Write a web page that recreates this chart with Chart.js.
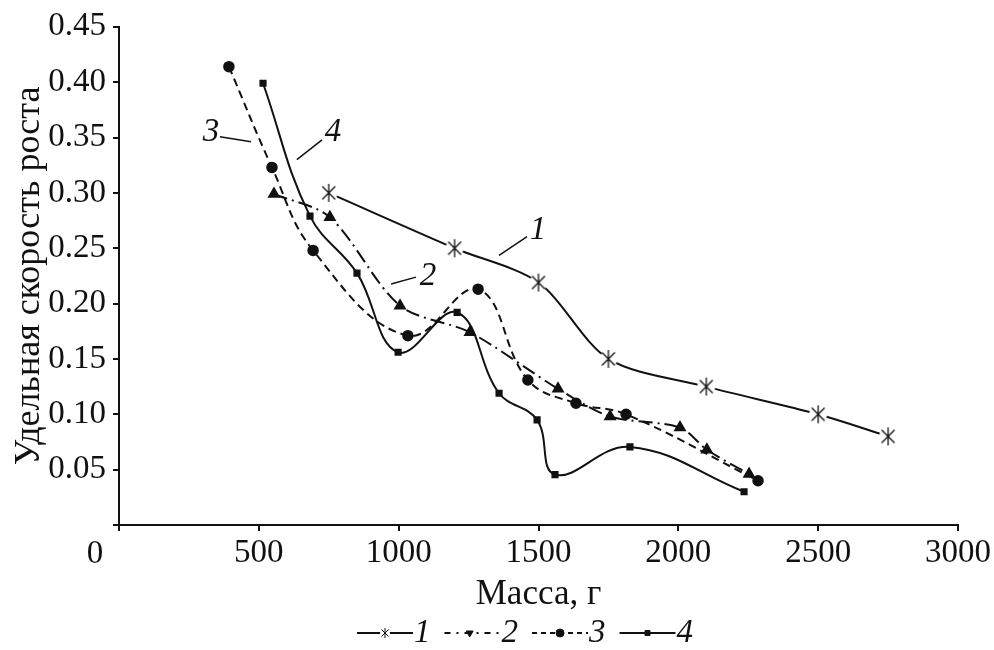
<!DOCTYPE html>
<html>
<head>
<meta charset="utf-8">
<script src="https://cdn.jsdelivr.net/npm/chart.js@4/dist/chart.umd.min.js"></script>
<style>
  html, body { margin: 0; padding: 0; background: #fff; }
  #wrap { width: 994px; height: 650px; }
</style>
</head>
<body>
<div id="wrap"><canvas id="c" width="994" height="650"></canvas></div>
<script>
// ---- data ----
const seriesNames = ['1', '2', '3', '4'];
const s1x = [750, 1200, 1500, 1750, 2100, 2500, 2750];
const s1y = [0.300, 0.250, 0.219, 0.150, 0.125, 0.100, 0.080];
const s2x = [554, 754, 1005, 1255, 1570, 1756, 2006, 2102, 2253];
const s2y = [0.299, 0.278, 0.198, 0.174, 0.123, 0.098, 0.088, 0.068, 0.046];
const s3x = [393, 547, 694, 1033, 1284, 1462, 1634, 1813, 2285];
const s3y = [0.414, 0.323, 0.248, 0.171, 0.213, 0.131, 0.110, 0.100, 0.040];
const s4x = [515, 683, 851, 998, 1209, 1359, 1495, 1559, 1827, 2235];
const s4y = [0.399, 0.279, 0.2275, 0.156, 0.192, 0.119, 0.095, 0.0455, 0.0705, 0.030];
const xTicks = [0, 500, 1000, 1500, 2000, 2500, 3000];
const yTicks = [0, 0.05, 0.10, 0.15, 0.20, 0.25, 0.30, 0.35, 0.40, 0.45];
const xTitle = 'Масса, г';
const yTitle = 'Удельная скорость роста';
// curve labels: [text, labelX, labelY, leaderX1, leaderY1, leaderX2, leaderY2]
const curveLabels = [
  ['1', 1498, 0.266, 1459, 0.2605, 1359, 0.2435],
  ['2', 1105, 0.2248, 1062, 0.2239, 973, 0.2177],
  ['3', 329, 0.355, 361, 0.3506, 472, 0.3461],
  ['4', 765, 0.355, 726, 0.3479, 636, 0.330]
];

const FONT = '"Liberation Serif", "Times New Roman", serif';
const zip = (xs, ys) => xs.map((x, i) => ({ x: x, y: ys[i] }));

// asterisk-like marker (vertical stroke + X) on a white disc
function makeAsterisk(size, lw, withDisc) {
  const c = document.createElement('canvas');
  c.width = size; c.height = size;
  const g = c.getContext('2d');
  const m = size / 2, r = size / 2 - 1;
  if (withDisc) {
    g.fillStyle = '#fff';
    g.beginPath(); g.arc(m, m, r, 0, Math.PI * 2); g.fill();
  }
  g.strokeStyle = '#111';
  g.lineWidth = lw;
  g.beginPath();
  g.moveTo(m, m - r); g.lineTo(m, m + r);
  const d = r * 0.72;
  g.moveTo(m - d, m - d); g.lineTo(m + d, m + d);
  g.moveTo(m + d, m - d); g.lineTo(m - d, m + d);
  g.stroke();
  return c;
}
const asteriskBig = makeAsterisk(20, 1.3, true);
const asteriskSmall = makeAsterisk(12, 1, true);

const datasets = [
  { label: seriesNames[0], data: zip(s1x, s1y), borderDash: [], pointStyle: asteriskBig, tension: 0.3, legendDash: [], legendStyle: asteriskSmall },
  { label: seriesNames[1], data: zip(s2x, s2y), borderDash: [14, 5, 2, 5], pointStyle: 'triangle', pointRadius: 6, tension: 0.3, legendDash: [6, 6, 2, 6], legendStyle: 'triangle' },
  { label: seriesNames[2], data: zip(s3x, s3y), borderDash: [8, 5], pointStyle: 'circle', pointRadius: 5, tension: 0.4, legendDash: [5, 4], legendStyle: 'circle' },
  { label: seriesNames[3], data: zip(s4x, s4y), borderDash: [], pointStyle: 'rect', pointRadius: 4, tension: 0.4, legendDash: [], legendStyle: 'rect' }
].map(d => Object.assign({
  borderColor: '#111',
  backgroundColor: '#111',
  pointBackgroundColor: '#111',
  pointBorderColor: '#111',
  pointBorderWidth: 1.5,
  pointRadius: 9,
  borderWidth: 2,
  fill: false
}, d));

const annotPlugin = {
  id: 'annot',
  afterDraw(chart) {
    const ctx = chart.ctx;
    const xs = chart.scales.x, ys = chart.scales.y;
    ctx.save();
    ctx.fillStyle = '#111';
    ctx.strokeStyle = '#111';
    ctx.lineWidth = 1.5;
    ctx.font = 'italic 33px ' + FONT;
    ctx.textAlign = 'center';
    ctx.textBaseline = 'middle';
    curveLabels.forEach(l => {
      ctx.fillText(l[0], xs.getPixelForValue(l[1]), ys.getPixelForValue(l[2]));
      ctx.beginPath();
      ctx.moveTo(xs.getPixelForValue(l[3]), ys.getPixelForValue(l[4]));
      ctx.lineTo(xs.getPixelForValue(l[5]), ys.getPixelForValue(l[6]));
      ctx.stroke();
    });
    // origin "0" label
    ctx.font = '33px ' + FONT;
    ctx.textAlign = 'center';
    ctx.fillText(String(xTicks[0]), xs.getPixelForValue(xTicks[0]) - 24, 554);

    // legend
    const ly = 633;
    let lx = 357;
    const segW = 56;
    chart.data.datasets.forEach((d, i) => {
      ctx.save();
      ctx.lineWidth = 2;
      ctx.setLineDash(d.legendDash);
      ctx.beginPath();
      ctx.moveTo(lx, ly);
      ctx.lineTo(lx + segW, ly);
      ctx.stroke();
      ctx.restore();
      ctx.save();
      ctx.fillStyle = '#111';
      ctx.strokeStyle = '#111';
      ctx.lineWidth = 1;
      Chart.helpers.drawPoint(ctx, {
        pointStyle: d.legendStyle,
        radius: d.legendStyle === 'rect' ? 3.5 : 4,
        rotation: d.legendStyle === 'triangle' ? 180 : 0,
        borderWidth: 1
      }, lx + (i === 1 ? segW * 0.45 : segW / 2), ly);
      ctx.restore();
      ctx.font = 'italic 33px ' + FONT;
      ctx.textAlign = 'left';
      ctx.textBaseline = 'middle';
      ctx.fillText(d.label, lx + segW + 1, ly);
      const tw = ctx.measureText(d.label).width;
      lx += segW + 1 + tw + 14;
    });
    ctx.restore();
  }
};

new Chart(document.getElementById('c'), {
  type: 'line',
  data: { datasets: datasets },
  plugins: [annotPlugin],
  options: {
    responsive: false,
    animation: false,
    events: [],
    layout: { padding: { top: 20, right: 36, bottom: 32, left: 0 } },
    plugins: { legend: { display: false }, tooltip: { enabled: false } },
    scales: {
      x: {
        type: 'linear',
        min: xTicks[0], max: xTicks[xTicks.length - 1],
        afterBuildTicks(scale) { scale.ticks = xTicks.map(v => ({ value: v })); },
        afterFit(scale) { scale.height = 93; },
        border: { display: true, color: '#111', width: 2 },
        grid: { display: true, drawOnChartArea: false, drawTicks: true, tickLength: 6, color: '#111', lineWidth: 2 },
        ticks: {
          color: '#111', padding: 3, maxRotation: 0, autoSkip: false,
          font: { family: FONT, size: 33 },
          callback: v => (v === 0 ? '' : String(v))
        },
        title: { display: true, text: xTitle, color: '#111', font: { family: FONT, size: 35 }, padding: { top: 0, bottom: 2 } }
      },
      y: {
        type: 'linear',
        min: yTicks[0], max: yTicks[yTicks.length - 1],
        afterBuildTicks(scale) { scale.ticks = yTicks.map(v => ({ value: v })); },
        afterFit(scale) { scale.width = 119; },
        border: { display: true, color: '#111', width: 2 },
        grid: { display: true, drawOnChartArea: false, drawTicks: true, tickLength: 6, color: '#111', lineWidth: 2 },
        ticks: {
          color: '#111', padding: 7, autoSkip: false,
          font: { family: FONT, size: 33 },
          callback: v => (v === 0 ? '' : v.toFixed(2))
        },
        title: { display: true, text: yTitle, color: '#111', font: { family: FONT, size: 36 }, padding: { top: 8, bottom: 0 } }
      }
    }
  }
});
</script>
</body>
</html>
